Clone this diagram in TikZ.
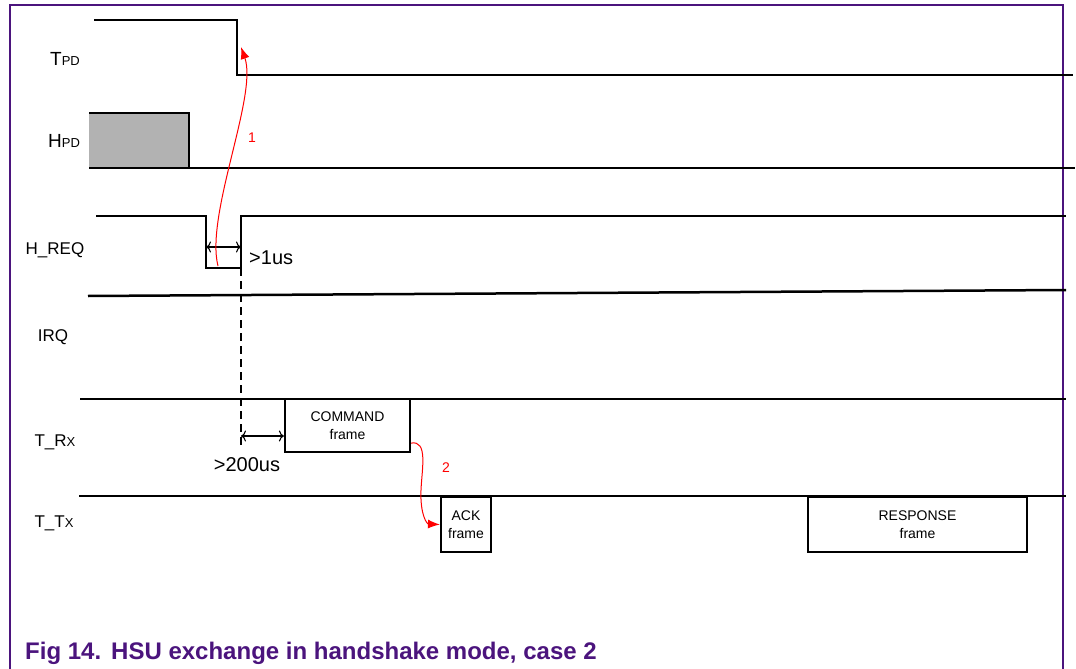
\documentclass[tikz,border=0pt]{standalone}
\usepackage{fontspec}
\setmainfont{Liberation Sans}
\usetikzlibrary{arrows.meta}
\definecolor{framepurple}{RGB}{75, 20, 125}
\definecolor{hpdgray}{RGB}{178, 178, 178}
\definecolor{markred}{RGB}{255,   0,   0}

\tikzset{
	sig/.style={line width=2.5pt},
	framebox/.style={draw, line width=2.2pt, align=center, inner sep=0pt,
		font=\fontsize{14}{18}\selectfont},
	siglabel/.style={inner sep=0pt, font=\fontsize{17}{20}\selectfont},
	dimlabel/.style={inner sep=0pt, font=\fontsize{20}{24}\selectfont},
	redarrow/.style={draw=markred, line width=1pt, -{Latex[length=12pt, width=9pt]}},
	dimarrow/.style={line width=1.1pt, {To[length=5pt, width=11pt]}-{To[length=5pt, width=11pt]}}
}
\newcommand{\smallsub}[2]{#1{\fontsize{13}{15}\selectfont #2}}

\begin{document}
\begin{tikzpicture}[x=1pt, y=-1pt]
	\useasboundingbox (0, 0) rectangle (1076, 669);

	% outer frame
	\draw[framepurple, line width=1.6pt] (10, 669) -- (10, 5) -- (1063, 5) -- (1063, 669);

	% signal names
	\node[siglabel] (lbl-tpd) at (65, 59) {\fontsize{19}{20}\selectfont T{\fontsize{13}{15}\selectfont PD}};
	\node[siglabel] (lbl-hpd) at (64, 141) {\fontsize{19}{20}\selectfont H{\fontsize{13}{15}\selectfont PD}};
	\node[siglabel] (lbl-req) at (55, 250) {H\_REQ};
	\node[siglabel] (lbl-irq) at (53, 337) {IRQ};
	\node[siglabel] (lbl-rx) at (55, 442) {\smallsub{T\_R}{X}};
	\node[siglabel] (lbl-tx) at (54, 523) {\smallsub{T\_T}{X}};

	% edges
	\coordinate (tpdfall) at (237, 75);
	\coordinate (reqfall) at (206, 268);
	\coordinate (reqrise) at (241, 268);

	% TPD
	\draw[sig] (94, 20) -| (tpdfall) -- (1073, 75);

	% HPD
	\fill[hpdgray] (89, 113) rectangle (189, 168);
	\draw[sig] (89, 113) -- (189, 113) -- (189, 168);
	\draw[sig] (89, 168) -- (1075, 168);

	% H_REQ
	\draw[sig] (96, 216) -| (reqfall) -- (reqrise) |- (1066, 216);

	% IRQ
	\draw[sig] (88, 296) -- (1066, 290);

	% T_Rx
	\draw[sig] (80, 399) -- (1066, 399);

	% T_Tx
	\draw[sig] (79, 496) -- (1066, 496);

	% frames
	\node[framebox, minimum width=125pt, minimum height=53pt] (cmd) at (347.5, 425.5) {COMMAND\\frame};
	\node[framebox, minimum width=50pt, minimum height=55pt] (ack) at (466, 524.5) {ACK\\frame};
	\node[framebox, minimum width=219pt, minimum height=55pt] (resp) at (917.5, 524.5) {RESPONSE\\frame};

	% timing marks
	\draw[sig, dash pattern=on 8pt off 5pt] (reqrise) -- (241, 446);
	\draw[dimarrow] (206, 247) -- (241, 247);
	\node[dimlabel, anchor=west] (lbl-1us) at (249, 258) {>1us};
	\draw[dimarrow] (241, 436) -- (cmd.west |- 0, 436);
	\node[dimlabel] (lbl-200us) at (247, 465) {>200us};

	% sequence arrows
	\draw[redarrow] (218, 266) .. controls (205, 215) and (258, 95) .. (241, 47);
	\node[markred, font=\fontsize{14}{16}\selectfont] (num-1) at (252, 138) {1};
	\draw[redarrow] ([yshift=10pt]cmd.south east) .. controls (428, 440) and (422, 468) .. (421, 490)
		.. controls (420, 515) and (427, 524) .. (ack.west);
	\node[markred, font=\fontsize{14}{16}\selectfont] (num-2) at (446, 468) {2};

	% caption
	\node[framepurple, anchor=base west, inner sep=0pt, font=\fontsize{24}{28}\selectfont\bfseries]
		(caption) at (25, 659) {Fig 14.\hspace{10pt}HSU exchange in handshake mode, case 2};
\end{tikzpicture}
\end{document}
